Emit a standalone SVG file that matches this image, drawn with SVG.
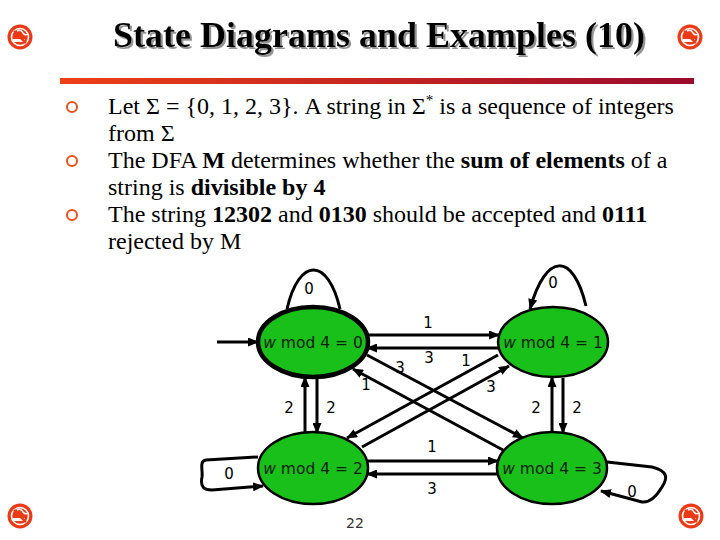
<svg xmlns="http://www.w3.org/2000/svg" width="720" height="540" viewBox="0 0 720 540">
<defs>
<linearGradient id="bar" x1="0" y1="0" x2="1" y2="0">
<stop offset="0" stop-color="#ee4018"/>
<stop offset="1" stop-color="#9a0a2c"/>
</linearGradient>
<filter id="shadow" x="-5%" y="-20%" width="110%" height="150%">
<feDropShadow dx="2" dy="2" stdDeviation="0.6" flood-color="#888" flood-opacity="0.9"/>
</filter>
<marker id="ah" markerUnits="userSpaceOnUse" markerWidth="11" markerHeight="9" refX="10" refY="4.5" orient="auto">
<path d="M0,0 L11,4.5 L0,9 z" fill="#000"/>
</marker>
<g id="icon">
<circle r="12.5" fill="#ec3a16"/>
<circle r="8.5" fill="none" stroke="#fff" stroke-width="1.6"/>
<rect x="-7" y="2" width="12" height="3" fill="#fff"/>
<path d="M-3,-6 q4,-2 6,2 q2,3 5,1" fill="none" stroke="#fff" stroke-width="1.5"/>
<line x1="-6" y1="-6" x2="6" y2="6" stroke="#ec3a16" stroke-width="2.5"/>
</g>
</defs>
<style>
.title{font-family:"Liberation Serif","Times New Roman",serif;font-weight:bold;font-size:36px}
.body{font-family:"Liberation Serif","Times New Roman",serif;font-size:24px;fill:#000}
.b{font-weight:bold}
.node{fill:#19c019;stroke:#000;stroke-width:2.5}
.acc{stroke-width:4.5}
.nt{font-family:"DejaVu Sans",Verdana,sans-serif;font-size:15.5px;fill:#102010;text-anchor:middle}
.lbl{font-family:"DejaVu Sans",Verdana,sans-serif;font-size:15px;fill:#000;text-anchor:middle}
.e{fill:none;stroke:#000;stroke-width:3}
.bul{fill:#fff;stroke:#e8501c;stroke-width:2}
</style>
<rect width="720" height="540" fill="#fff"/>

<g id="header">
<use href="#icon" x="20" y="37"/>
<use href="#icon" x="690" y="37"/>
<text class="title" x="379" y="47" text-anchor="middle" fill="#000" filter="url(#shadow)">State Diagrams and Examples (10)</text>
<rect x="60" y="78" width="634" height="6" fill="url(#bar)"/>
</g>

<g id="bullets">
<circle class="bul" cx="72" cy="107" r="5"/>
<circle class="bul" cx="72" cy="161" r="5"/>
<circle class="bul" cx="72" cy="215" r="5"/>
<text class="body" x="108" y="114">Let Σ = {0, 1, 2, 3}. A string in Σ<tspan dy="-9" font-size="15">*</tspan><tspan dy="9"> is a sequence of integers</tspan></text>
<text class="body" x="108" y="141">from Σ</text>
<text class="body" x="108" y="168">The DFA <tspan class="b">M</tspan> determines whether the <tspan class="b">sum of elements</tspan> of a</text>
<text class="body" x="108" y="195">string is <tspan class="b">divisible by 4</tspan></text>
<text class="body" x="108" y="222">The string <tspan class="b">12302</tspan> and <tspan class="b">0130</tspan> should be accepted and <tspan class="b">0111</tspan></text>
<text class="body" x="108" y="249">rejected by M</text>
</g>

<g id="connectors">
<line class="e" x1="217" y1="342" x2="258" y2="342" marker-end="url(#ah)"/>
<line class="e" x1="368" y1="335" x2="499" y2="335" marker-end="url(#ah)"/>
<line class="e" x1="498" y1="348" x2="367" y2="348" marker-end="url(#ah)"/>
<line class="e" x1="305" y1="432" x2="305" y2="377" marker-end="url(#ah)"/>
<line class="e" x1="317" y1="378" x2="317" y2="433" marker-end="url(#ah)"/>
<line class="e" x1="552" y1="432" x2="552" y2="377" marker-end="url(#ah)"/>
<line class="e" x1="563" y1="378" x2="563" y2="433" marker-end="url(#ah)"/>
<line class="e" x1="367" y1="355" x2="523" y2="438" marker-end="url(#ah)"/>
<line class="e" x1="503" y1="450" x2="353" y2="369" marker-end="url(#ah)"/>
<line class="e" x1="498" y1="355" x2="347" y2="438" marker-end="url(#ah)"/>
<line class="e" x1="362" y1="447" x2="509" y2="366" marker-end="url(#ah)"/>
<line class="e" x1="368" y1="461" x2="498" y2="461" marker-end="url(#ah)"/>
<line class="e" x1="497" y1="474" x2="367" y2="474" marker-end="url(#ah)"/>
<path class="e" d="M287,309 C299,257 328,257 340,309"/>
<path class="e" d="M586,306 C573,252 546,252 530,309" marker-end="url(#ah)"/>
<path class="e" d="M258,457 L206,460 C199,461 203,470 202,477 C200,487 204,490 212,490 L263,486" marker-end="url(#ah)"/>
<path class="e" d="M607,462 L652,467 C668,471 668,478 662,487 C656,497 650,503 642,502 L601,491" marker-end="url(#ah)"/>
<text class="lbl" x="309" y="294">0</text>
<text class="lbl" x="553" y="288">0</text>
<text class="lbl" x="229" y="479">0</text>
<text class="lbl" x="632" y="497">0</text>
<text class="lbl" x="428" y="328">1</text>
<text class="lbl" x="429" y="363">3</text>
<text class="lbl" x="289" y="413">2</text>
<text class="lbl" x="331" y="413">2</text>
<text class="lbl" x="536" y="413">2</text>
<text class="lbl" x="577" y="413">2</text>
<text class="lbl" x="400" y="373">3</text>
<text class="lbl" x="366" y="390">1</text>
<text class="lbl" x="466" y="366">1</text>
<text class="lbl" x="491" y="392">3</text>
<text class="lbl" x="432" y="452">1</text>
<text class="lbl" x="432" y="494">3</text>
</g>

<g id="q0">
<ellipse class="node acc" cx="313" cy="342" rx="55" ry="35"/>
<text class="nt" x="313" y="348"><tspan font-style="italic">w</tspan> mod 4 = 0</text>
</g>
<g id="q1">
<ellipse class="node" cx="553" cy="342" rx="55" ry="35"/>
<text class="nt" x="553" y="348"><tspan font-style="italic">w</tspan> mod 4 = 1</text>
</g>
<g id="q2">
<ellipse class="node" cx="313" cy="468" rx="55" ry="36"/>
<text class="nt" x="313" y="474"><tspan font-style="italic">w</tspan> mod 4 = 2</text>
</g>
<g id="q3">
<ellipse class="node" cx="552" cy="468" rx="55" ry="36"/>
<text class="nt" x="552" y="474"><tspan font-style="italic">w</tspan> mod 4 = 3</text>
</g>

<g id="footer">
<use href="#icon" x="20" y="516"/>
<use href="#icon" x="691" y="516"/>
<text x="355" y="528" font-family="'DejaVu Sans',Verdana,sans-serif" font-size="14" fill="#333" text-anchor="middle">22</text>
</g>
</svg>
